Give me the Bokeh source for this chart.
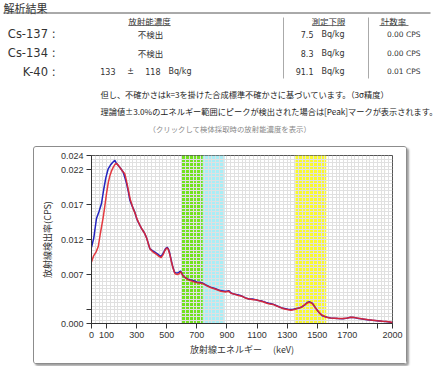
import numpy as np
from bokeh.plotting import figure
from bokeh.layouts import column
from bokeh.models import FixedTicker, Range1d, PrintfTickFormatter, BoxAnnotation
from bokeh.core.properties import value
from bokeh.embed import file_html
from bokeh.resources import INLINE

# ---------------- data ----------------
energy_blue = [0, 15, 33, 50, 66, 80, 95, 111, 125, 140, 155, 165, 177, 195, 211, 222, 233, 245, 255, 270,
               288, 300, 310, 332, 350, 365, 378, 387, 405, 421, 440, 458, 470, 480, 492, 503, 512, 520, 530, 540,
               552, 569, 580, 591, 602, 613, 635, 658, 680, 702, 720, 736, 760, 791, 820, 857, 885, 900, 912, 925,
               946, 970, 990, 1020, 1045, 1070, 1090, 1110, 1134, 1160, 1178, 1200, 1223, 1245, 1267, 1290, 1311,
               1335, 1356, 1380, 1400, 1420, 1433, 1449, 1467, 1477, 1490, 1500, 1515, 1533, 1550, 1566, 1590,
               1610, 1640, 1666, 1695, 1721, 1745, 1766, 1800, 1832, 1865, 1898, 1930, 1954, 1980, 2000]
cps_blue = [0.0109, 0.0122, 0.0150, 0.0160, 0.0171, 0.0190, 0.0208, 0.0221, 0.0226, 0.0230, 0.0233, 0.0229,
            0.0226, 0.0221, 0.0216, 0.0208, 0.0200, 0.0188, 0.0176, 0.0168, 0.0159, 0.0150, 0.0145, 0.0136,
            0.0130, 0.0123, 0.0114, 0.0107, 0.0104, 0.0102, 0.0099, 0.0096, 0.0098, 0.0102, 0.0107, 0.0109,
            0.0106, 0.0100, 0.0090, 0.0081, 0.0073, 0.0072, 0.0073, 0.0075, 0.0071, 0.0067, 0.0064, 0.0062,
            0.0061, 0.0059, 0.0059, 0.0058, 0.0055, 0.0052, 0.0050, 0.0047, 0.0046, 0.0046, 0.0047, 0.0044,
            0.0042, 0.0041, 0.0040, 0.0037, 0.0035, 0.0035, 0.0034, 0.0033, 0.0032, 0.0030, 0.0029, 0.0028,
            0.0026, 0.0024, 0.0022, 0.0021, 0.0020, 0.0020, 0.0021, 0.0022, 0.0024, 0.0027, 0.0030, 0.0031,
            0.0029, 0.0026, 0.0022, 0.0019, 0.0015, 0.0011, 0.0010, 0.0009, 0.0008, 0.00076, 0.00070, 0.00067,
            0.00075, 0.0009, 0.00085, 0.00076, 0.00065, 0.00053, 0.00045, 0.00039, 0.00033, 0.00029, 0.00022,
            0.00012]

energy_red = [0, 15, 30, 45, 60, 78, 90, 100, 112, 122, 133, 144, 155, 166, 177, 188, 205, 221, 230, 239,
              250, 259, 275, 290, 305, 320, 335, 355, 368, 380, 390, 410, 430, 448, 462, 475, 487, 500, 510, 520,
              530, 542, 555, 570, 582, 594, 605, 620, 640, 660, 690, 715, 740, 765, 795, 825, 860, 890, 910, 930,
              950, 975, 1000, 1025, 1050, 1075, 1095, 1120, 1140, 1165, 1185, 1210, 1230, 1255, 1275, 1300, 1325,
              1350, 1375, 1400, 1425, 1440, 1455, 1470, 1485, 1500, 1520, 1540, 1560, 1585, 1615, 1645, 1675,
              1700, 1725, 1750, 1775, 1805, 1840, 1870, 1900, 1935, 1960, 1985, 2000]
cps_red = [0.0088, 0.0097, 0.0102, 0.0110, 0.0130, 0.0152, 0.0170, 0.0186, 0.0202, 0.0211, 0.0218, 0.0223,
           0.0227, 0.0229, 0.0226, 0.0223, 0.0218, 0.0214, 0.0206, 0.0197, 0.0185, 0.0176, 0.0165, 0.0157,
           0.0148, 0.0141, 0.0135, 0.0128, 0.0121, 0.0112, 0.0106, 0.0102, 0.0099, 0.0096, 0.0094, 0.0098,
           0.0104, 0.0108, 0.0106, 0.0099, 0.0089, 0.0079, 0.0071, 0.0070, 0.0071, 0.0074, 0.0069, 0.0066,
           0.0063, 0.0061, 0.0059, 0.0058, 0.0057, 0.0054, 0.0051, 0.0049, 0.0046, 0.0045, 0.0046, 0.0043,
           0.0042, 0.0040, 0.0039, 0.0036, 0.0035, 0.0034, 0.0034, 0.0032, 0.0031, 0.0029, 0.0028, 0.0027,
           0.0025, 0.0023, 0.0021, 0.0020, 0.0019, 0.0020, 0.0022, 0.0024, 0.0028, 0.0030, 0.0030, 0.0028,
           0.0023, 0.0019, 0.0014, 0.0011, 0.0009, 0.0008, 0.00075, 0.00070, 0.00070, 0.00078, 0.00088,
           0.00084, 0.00074, 0.00063, 0.00052, 0.00045, 0.00038, 0.00032, 0.00028, 0.00020, 0.00014]

band_left = [600, 740, 1355]
band_right = [740, 885, 1560]
band_colors = ["#72e21e", "#a8eef6", "#fafa2c"]

x_ticks = [0, 100, 300, 500, 700, 900, 1100, 1300, 1500, 1700, 1900, 2000]
y_ticks = [0.0, 0.002, 0.007, 0.012, 0.017, 0.022, 0.024]

nuclides = ["Cs-137 :", "Cs-134 :", "K-40 :"]
concentration = ["不検出", "不検出", None]
k40_value, k40_unc = "133", "118"
detection_limit = ["7.5", "8.3", "91.1"]
count_rate = ["0.00 CPS", "0.00 CPS", "0.01 CPS"]

JP = value("Noto Sans CJK JP")
LAT = value("DejaVu Sans")

# ---------------- header / table (page coordinates) ----------------
top = figure(width=446, height=146, x_range=Range1d(0, 446), y_range=Range1d(146, 0),
             output_backend="svg", toolbar_location=None,
             min_border_left=0, min_border_right=0, min_border_top=0, min_border_bottom=0)
top.frame_align = False
top.axis.visible = False
top.grid.visible = False
top.outline_line_color = None

top.text(x=[3], y=[7], text=["解析結果"], text_font=JP, text_font_size="11px",
         text_baseline="middle", text_color="#333")
top.segment(x0=[3], y0=[12.5], x1=[430], y1=[12.5], line_color="#555", line_width=1)

# column headers
hx = [149, 328, 393]
top.text(x=hx, y=[20.5, 20.5, 20.5], text=["放射能濃度", "測定下限", "計数率"], text_font=JP,
         text_font_size="8.5px", text_align="center", text_baseline="middle", text_color="#333")
top.segment(x0=[128, 312, 379], y0=[25, 25, 25], x1=[170, 344, 408], y1=[25, 25, 25],
            line_color="#555", line_width=0.8)
top.segment(x0=[283, 368], y0=[17, 17], x1=[283, 368], y1=[78, 78], line_color="#aaa", line_width=1)

row_y = [33.5, 52.5, 71]
top.text(x=[55, 55, 55], y=row_y, text=nuclides, text_font=LAT, text_font_size="11.5px",
         text_align="right", text_baseline="middle", text_color="#333")
top.text(x=[150, 150], y=row_y[:2], text=concentration[:2], text_font=JP, text_font_size="8.5px",
         text_align="center", text_baseline="middle", text_color="#333")
top.text(x=[115, 130, 160, 168], y=[row_y[2]] * 4, text=[k40_value, "±", k40_unc, "Bq/kg"],
         text_font=LAT, text_font_size="8px", text_align=["right", "center", "right", "left"],
         text_baseline="middle", text_color="#333")
top.text(x=[313] * 3, y=row_y, text=detection_limit, text_font=LAT, text_font_size="8px",
         text_align="right", text_baseline="middle", text_color="#333")
top.text(x=[321] * 3, y=row_y, text=["Bq/kg"] * 3, text_font=LAT, text_font_size="8px",
         text_align="left", text_baseline="middle", text_color="#333")
top.text(x=[420] * 3, y=row_y, text=count_rate, text_font=LAT, text_font_size="7.5px",
         text_align="right", text_baseline="middle", text_color="#333")

top.text(x=[100], y=[93],
         text=["但し、不確かさはk=3を掛けた合成標準不確かさに基づいています。（3σ精度）"],
         text_font=JP, text_font_size="8.2px", text_baseline="middle", text_color="#222")
top.text(x=[100], y=[110.5],
         text=["理論値±3.0%のエネルギー範囲にピークが検出された場合は[Peak]マークが表示されます。"],
         text_font=JP, text_font_size="8.2px", text_baseline="middle", text_color="#222")
top.text(x=[148], y=[128], text=["（クリックして検体採取時の放射能濃度を表示）"],
         text_font=JP, text_font_size="7.4px", text_baseline="middle", text_color="#888")

# ---------------- chart ----------------
chart = figure(width=374, height=218, x_range=Range1d(0, 2000), y_range=Range1d(0, 0.024),
               output_backend="svg", toolbar_location=None,
               min_border_left=57, min_border_right=16, min_border_top=8, min_border_bottom=42,
               margin=(0, 0, 0, 33))
chart.frame_align = False
chart.styles = {"border": "1px solid #8c8c8c", "border-radius": "3px",
                "box-shadow": "2px 2px 2px #a0a0a0"}

for l, r, c in zip(band_left, band_right, band_colors):
    chart.add_layout(BoxAnnotation(left=l, right=r, fill_color=c, fill_alpha=1.0,
                                   line_color=None, level="image"))

chart.xgrid.ticker = FixedTicker(ticks=list(np.arange(0, 2001, 25)))
chart.ygrid.ticker = FixedTicker(ticks=list(np.round(np.arange(0, 0.02401, 0.0005), 5)))
chart.grid.grid_line_color = "#e0e0e0"
chart.grid.grid_line_width = 1

chart.line(energy_blue, cps_blue, line_color="#2323c0", line_width=1.5)
chart.line(energy_red, cps_red, line_color="#e2262c", line_width=1.5, line_alpha=0.9)

chart.outline_line_color = "#555"
chart.xaxis.ticker = FixedTicker(ticks=x_ticks)
chart.xaxis.major_label_overrides = {1900: ""}
chart.yaxis.ticker = FixedTicker(ticks=y_ticks)
chart.yaxis.formatter = PrintfTickFormatter(format="%.3f")
chart.yaxis.major_label_overrides = {0.002: ""}
for ax in (chart.xaxis, chart.yaxis):
    ax.major_tick_out = 5
    ax.major_tick_in = 0
    ax.minor_tick_line_color = None
    ax.major_label_text_font = "Liberation Sans"
    ax.major_label_text_font_size = "9px"
    ax.major_label_text_color = "#333"
    ax.major_label_standoff = 3
    ax.axis_line_color = "#333"
    ax.major_tick_line_color = "#333"
    ax.axis_label_text_font = "Noto Sans CJK JP"
    ax.axis_label_text_font_size = "9px"
    ax.axis_label_text_font_style = "normal"
    ax.axis_label_text_color = "#333"
    ax.axis_label_standoff = 4
chart.xaxis.axis_label = "放射線エネルギー　 (keV)"
chart.xaxis.axis_label_standoff = 2
chart.yaxis.axis_label = "放射線検出率(CPS)"

layout = column(top, chart, spacing=0)
open("out.html", "w").write(file_html(layout, INLINE))
